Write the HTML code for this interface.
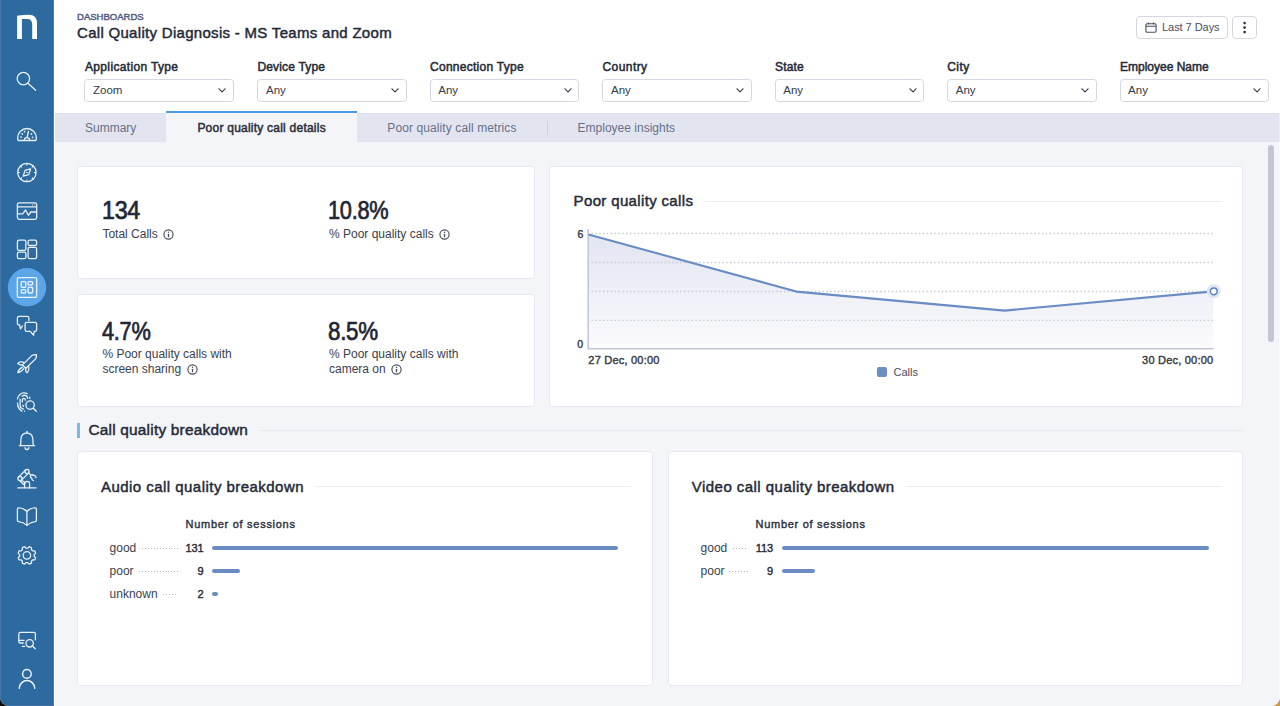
<!DOCTYPE html>
<html><head><meta charset="utf-8">
<style>
*{box-sizing:border-box;margin:0;padding:0}
html,body{width:1280px;height:706px;overflow:hidden;background:linear-gradient(90deg,#100c0a 0,#100c0a 50%,#c69b52 50%)}
#win{position:absolute;left:0;top:0;width:1280px;height:706px;overflow:hidden;border-radius:0 0 9px 9px;background:#fff}
body{font-family:"Liberation Sans",Arial,sans-serif;color:#252b37;position:relative}
.abs{position:absolute}
.t{position:absolute;white-space:nowrap;line-height:1}
#side{position:absolute;left:0;top:0;width:54px;height:706px;background:#2d6a9f}
.crumb{left:77px;top:12px;font-size:9.5px;font-weight:400;-webkit-text-stroke:.45px #505d82;color:#505d82;letter-spacing:.02px}
.title{left:77px;top:24.6px;font-size:15px;font-weight:400;-webkit-text-stroke:.45px #232936;color:#232936;letter-spacing:.3px}
.btn{position:absolute;top:16px;height:23px;border:1px solid #d3d7e2;border-radius:4px;background:#fff}
.flabel{top:61px;font-size:12px;font-weight:400;-webkit-text-stroke:.5px #262b36;color:#262b36;letter-spacing:.25px}
.sel{position:absolute;top:79px;width:149.5px;height:23px;border:1px solid #d5d8e3;border-radius:3.5px;background:#fff}
.sel .chev{position:absolute;right:6.6px;top:8.3px}
.sel span{position:absolute;left:7.6px;top:4.6px;font-size:11.5px;line-height:1;color:#333a47}
.sel i{position:absolute;right:6.5px;top:8px;width:8px;height:5px;background:no-repeat}
#tabs{position:absolute;left:55px;top:113px;width:1225px;height:29px;background:#e2e4f0;border-top:1px solid #dcdfeb}
.tab{top:122.2px;font-size:12px;color:#687089}
#content{position:absolute;left:55px;top:142px;width:1225px;height:564px;background:#f4f5f9}
#wl{position:absolute;left:54px;top:113px;width:1px;height:593px;background:#fdfdfe}
.card{position:absolute;background:#fff;border:1px solid #e7e8f3;border-radius:4px}
.kv{font-size:25px;font-weight:400;-webkit-text-stroke:.7px #1f2633;color:#1f2633;letter-spacing:-.3px;transform-origin:0 0}
.kl{font-size:12px;color:#3b414e;line-height:15px;white-space:normal}
.info{display:inline-block;vertical-align:-2px;margin-left:5.5px}
.h2{font-size:15px;font-weight:400;-webkit-text-stroke:.45px #232936;color:#232936;letter-spacing:.4px}
.hl{position:absolute;height:1px;background:#eceef4}
.ax{font-size:11px;font-weight:400;-webkit-text-stroke:.4px #343a47;color:#343a47;letter-spacing:.22px}
.ns{font-size:11px;font-weight:400;-webkit-text-stroke:.4px #2b313d;color:#2b313d;letter-spacing:.72px}
.rl{font-size:12px;color:#3b414e}
.rv{font-size:11px;font-weight:400;-webkit-text-stroke:.4px #262b36;color:#262b36;text-align:right;width:30px;letter-spacing:-.1px}
.ld{position:absolute;height:1px;background:repeating-linear-gradient(90deg,#b3b9ca 0,#b3b9ca 1px,transparent 1px,transparent 2.95px)}
.bar{position:absolute;height:4px;border-radius:2px;background:#6b8cc2}
</style></head><body><div id="win">
<div id="side">
<svg width="54" height="706" viewBox="0 0 54 706" style="position:absolute;left:0;top:0" fill="none" stroke="#e9eff6" stroke-width="1.3" stroke-linecap="round" stroke-linejoin="round">
<rect x="52" y="0" width="1" height="706" fill="#28649a" stroke="none"/><rect x="53" y="0" width="1" height="706" fill="#4f82b1" stroke="none"/><rect x="0" y="0" width="1" height="706" fill="#4577a7" stroke="none"/><rect x="0" y="705" width="54" height="1" fill="#3f74a6" stroke="none"/>
<!-- logo n -->
<path d="M17.1 39.1 V15.7 Q23 14.8 29 14.8 Q37 14.9 37 23.4 V39.1 H32.2 V24.8 Q32.2 19.1 27.2 19.1 H21.9 V39.1 Z" fill="#fff" stroke="none"/>
<!-- search -->
<circle cx="23.4" cy="78.6" r="6.2"/>
<path d="M28 83.3 L35.6 90.2"/>
<!-- gauge -->
<path d="M17.7 137.8 A9.3 9.3 0 0 1 36.3 137.8 V139.4 Q36.3 140.5 35.2 140.5 H18.8 Q17.7 140.5 17.7 139.4 Z"/>
<path d="M24.3 140.4 A2.7 2.7 0 0 1 29.7 140.4"/>
<path d="M27 137.5 L28.5 131.5"/>
<circle cx="24.6" cy="131.6" r=".35" stroke-width="1.1"/>
<circle cx="22.3" cy="134" r=".35" stroke-width="1.1"/>
<circle cx="21.1" cy="137.1" r=".35" stroke-width="1.1"/>
<circle cx="31.5" cy="134" r=".35" stroke-width="1.1"/>
<circle cx="32.6" cy="137.3" r=".35" stroke-width="1.1"/>
<!-- compass -->
<circle cx="26.9" cy="172.5" r="9.2"/>
<path d="M26.9 163.6 v1.4 M26.9 180 v1.4 M18 172.5 h1.4 M34.4 172.5 h1.4 M20.6 166.2 l1 1 M32.2 177.8 l1 1 M33.2 166.2 l-1 1 M21.6 177.8 l-1 1" stroke-width="1.2"/>
<path d="M30.6 168.8 L28.8 174.6 L23.2 176.2 L25 170.4 Z"/>
<circle cx="26.9" cy="172.5" r=".4" stroke-width="1"/>
<!-- browser pulse -->
<rect x="17.4" y="202.9" width="19.3" height="16.4" rx="1.8"/>
<path d="M17.6 206.9 H36.5"/>
<path d="M32.5 204.9 h.1 M34.3 204.9 h.1" stroke-width="1"/>
<path d="M17.6 213.9 H22.7 L25.6 210 L28.4 215.3 L30.8 212 H36.5"/>
<!-- layout -->
<rect x="17.4" y="240.1" width="8.5" height="10.3" rx="1.6"/>
<rect x="17.4" y="252.2" width="8.5" height="6.4" rx="1.6"/>
<rect x="28.1" y="240.1" width="8.5" height="5.4" rx="1.6"/>
<rect x="28.1" y="247.3" width="8.5" height="11.3" rx="1.6"/>
<!-- active dashboards -->
<circle cx="27" cy="287.3" r="19.2" fill="#5ba5e8" stroke="none"/>
<rect x="17.3" y="277.6" width="19.4" height="19.7" rx="1.4" stroke="#eaf3fc"/>
<rect x="21.2" y="281.6" width="4.6" height="5.8" rx="1.2" stroke="#eaf3fc"/>
<rect x="28" y="281.6" width="4.6" height="3.3" rx="1.2" stroke="#eaf3fc"/>
<rect x="21.2" y="289.7" width="4.6" height="3.3" rx="1.2" stroke="#eaf3fc"/>
<rect x="28" y="287.2" width="4.6" height="5.8" rx="1.2" stroke="#eaf3fc"/>
<!-- chat -->
<path d="M28.9 320.4 V318 Q28.9 316.4 27.3 316.4 H19 Q17.4 316.4 17.4 318 V323.6 Q17.4 325 18.8 325 H19.6 L20.5 328.8 L22.4 326"/>
<path d="M26.7 322.4 H35 Q36.6 322.4 36.6 324 V329.8 Q36.6 331.4 35 331.4 H34.2 L33.6 335.2 L30.2 331.4 H26.7 Q25.1 331.4 25.1 329.8 V324 Q25.1 322.4 26.7 322.4 Z"/>
<!-- rocket -->
<path d="M22.3 365.1 L32 355.4 Q34.4 354.6 36.4 354.7 Q36.6 356.6 36 358.4 L25.9 368.3 Z"/>
<path d="M24 362.4 Q19.5 360.8 17.8 363.4 Q19 365 22.3 365.1"/>
<path d="M28.6 366.2 Q29.5 371 27 372.8 Q24.9 371.2 25.9 368.3"/>
<path d="M22.4 367.1 Q18.3 369.6 17.8 372.7 Q21.6 372 23.8 368.5"/>
<!-- fingerprint search -->
<path d="M17.4 398.8 Q19 393 24 392.9 Q26 392.9 27.2 393.6"/>
<path d="M17.5 402.9 Q17.4 408 21.8 411.1"/>
<path d="M20.1 399.2 V405.8 Q20.4 408.4 23.5 409.2"/>
<path d="M22.1 396.1 Q24.3 394.7 26.2 395.6 Q27.3 396.3 27.6 398.3"/>
<path d="M22.3 401.8 V400 Q22.6 398.4 24 398.4 Q25.4 398.6 25.4 400.2"/>
<path d="M22.8 405.3 L23.5 406.3"/>
<path d="M24.5 411.2 h.1"/>
<path d="M29.6 397.1 L30 398.3"/>
<circle cx="30.1" cy="405.1" r="4.2"/>
<path d="M33.3 408.3 L36.3 411.3"/>
<!-- bell -->
<path d="M19.3 445.7 H34.6"/>
<path d="M20.6 445.6 Q20.9 440 21 438.6 Q21.7 433.2 26.9 433.2 Q32.1 433.2 32.8 438.6 Q32.9 440 33.3 445.6"/>
<path d="M26.9 431.5 V433"/>
<path d="M25 447.6 A1.9 1.9 0 0 0 28.8 447.6"/>
<!-- robot arm -->
<path d="M17.8 487.9 H36"/>
<path d="M24.6 487.8 V483.8 Q24.6 481.4 27.1 481.4 Q29.6 481.4 29.6 483.8 V487.8"/>
<circle cx="20" cy="478.6" r="2.1"/>
<circle cx="27" cy="471.6" r="2.1"/>
<path d="M18.4 477.1 L25.4 470.2 M21.5 480.1 L28.5 473.1 M21.6 480.3 L25.4 483 M19.8 480.7 L23.7 484.5"/>
<path d="M28.7 472.9 L30.5 474.9"/>
<path d="M33.1 475.1 A1.7 1.7 0 1 0 31.6 478.1"/>
<path d="M33.1 475.1 Q35.3 475 36 477.6 M31.6 478.1 Q31.6 480 33.5 480.6"/>
<!-- book -->
<path d="M26.9 511.2 Q22.6 507.6 18.5 507.9 Q17.4 508 17.4 509.3 V520.2 Q17.4 521.4 18.6 521.6 Q23.3 522 26.9 525.4 Q30.5 522 35.2 521.6 Q36.4 521.4 36.4 520.2 V509.3 Q36.4 508 35.3 507.9 Q31.2 507.6 26.9 511.2 Z"/>
<path d="M26.9 511.3 V525.2"/>
<!-- gear -->
<path d="M26.90 548.10 L27.09 548.10 L27.28 548.11 L27.47 548.12 L27.66 548.14 L27.86 548.12 L28.08 547.92 L28.35 547.59 L28.64 547.22 L28.94 546.92 L29.22 546.75 L29.46 546.77 L29.68 546.84 L29.90 546.92 L30.13 547.00 L30.34 547.09 L30.56 547.18 L30.77 547.28 L30.99 547.38 L31.19 547.49 L31.38 547.65 L31.46 547.96 L31.45 548.39 L31.40 548.86 L31.35 549.27 L31.37 549.57 L31.49 549.73 L31.64 549.85 L31.78 549.98 L31.92 550.10 L32.06 550.24 L32.20 550.38 L32.32 550.52 L32.45 550.66 L32.57 550.81 L32.73 550.93 L33.03 550.95 L33.44 550.90 L33.91 550.85 L34.34 550.84 L34.65 550.92 L34.81 551.11 L34.92 551.31 L35.02 551.53 L35.12 551.74 L35.21 551.96 L35.30 552.17 L35.38 552.40 L35.46 552.62 L35.53 552.84 L35.55 553.08 L35.38 553.36 L35.08 553.66 L34.71 553.95 L34.38 554.22 L34.18 554.44 L34.16 554.64 L34.18 554.83 L34.19 555.02 L34.20 555.21 L34.20 555.40 L34.20 555.59 L34.19 555.78 L34.18 555.97 L34.16 556.16 L34.18 556.36 L34.38 556.58 L34.71 556.85 L35.08 557.14 L35.38 557.44 L35.55 557.72 L35.53 557.96 L35.46 558.18 L35.38 558.40 L35.30 558.63 L35.21 558.84 L35.12 559.06 L35.02 559.27 L34.92 559.49 L34.81 559.69 L34.65 559.88 L34.34 559.96 L33.91 559.95 L33.44 559.90 L33.03 559.85 L32.73 559.87 L32.57 559.99 L32.45 560.14 L32.32 560.28 L32.20 560.42 L32.06 560.56 L31.92 560.70 L31.78 560.82 L31.64 560.95 L31.49 561.07 L31.37 561.23 L31.35 561.53 L31.40 561.94 L31.45 562.41 L31.46 562.84 L31.38 563.15 L31.19 563.31 L30.99 563.42 L30.77 563.52 L30.56 563.62 L30.34 563.71 L30.13 563.80 L29.90 563.88 L29.68 563.96 L29.46 564.03 L29.22 564.05 L28.94 563.88 L28.64 563.58 L28.35 563.21 L28.08 562.88 L27.86 562.68 L27.66 562.66 L27.47 562.68 L27.28 562.69 L27.09 562.70 L26.90 562.70 L26.71 562.70 L26.52 562.69 L26.33 562.68 L26.14 562.66 L25.94 562.68 L25.72 562.88 L25.45 563.21 L25.16 563.58 L24.86 563.88 L24.58 564.05 L24.34 564.03 L24.12 563.96 L23.90 563.88 L23.67 563.80 L23.46 563.71 L23.24 563.62 L23.03 563.52 L22.81 563.42 L22.61 563.31 L22.42 563.15 L22.34 562.84 L22.35 562.41 L22.40 561.94 L22.45 561.53 L22.43 561.23 L22.31 561.07 L22.16 560.95 L22.02 560.82 L21.88 560.70 L21.74 560.56 L21.60 560.42 L21.48 560.28 L21.35 560.14 L21.23 559.99 L21.07 559.87 L20.77 559.85 L20.36 559.90 L19.89 559.95 L19.46 559.96 L19.15 559.88 L18.99 559.69 L18.88 559.49 L18.78 559.27 L18.68 559.06 L18.59 558.84 L18.50 558.63 L18.42 558.40 L18.34 558.18 L18.27 557.96 L18.25 557.72 L18.42 557.44 L18.72 557.14 L19.09 556.85 L19.42 556.58 L19.62 556.36 L19.64 556.16 L19.62 555.97 L19.61 555.78 L19.60 555.59 L19.60 555.40 L19.60 555.21 L19.61 555.02 L19.62 554.83 L19.64 554.64 L19.62 554.44 L19.42 554.22 L19.09 553.95 L18.72 553.66 L18.42 553.36 L18.25 553.08 L18.27 552.84 L18.34 552.62 L18.42 552.40 L18.50 552.17 L18.59 551.96 L18.68 551.74 L18.78 551.53 L18.88 551.31 L18.99 551.11 L19.15 550.92 L19.46 550.84 L19.89 550.85 L20.36 550.90 L20.77 550.95 L21.07 550.93 L21.23 550.81 L21.35 550.66 L21.48 550.52 L21.60 550.38 L21.74 550.24 L21.88 550.10 L22.02 549.98 L22.16 549.85 L22.31 549.73 L22.43 549.57 L22.45 549.27 L22.40 548.86 L22.35 548.39 L22.34 547.96 L22.42 547.65 L22.61 547.49 L22.81 547.38 L23.03 547.28 L23.24 547.18 L23.46 547.09 L23.67 547.00 L23.90 546.92 L24.12 546.84 L24.34 546.77 L24.58 546.75 L24.86 546.92 L25.16 547.22 L25.45 547.59 L25.72 547.92 L25.94 548.12 L26.14 548.14 L26.33 548.12 L26.52 548.11 L26.71 548.10 Z"/>
<circle cx="26.9" cy="555.4" r="3.7"/>
<!-- chat search -->
<path d="M23.2 643 H20.4 Q18.8 643 18.8 641.4 V634 Q18.8 632.4 20.4 632.4 H33.8 Q35.4 632.4 35.4 634 V639.8"/>
<path d="M19.2 640.4 H24"/>
<path d="M22.4 646.4 H24.6"/>
<circle cx="29.65" cy="643.3" r="3.7"/>
<path d="M32.4 646 L35.3 648.7"/>
<!-- user -->
<circle cx="26.9" cy="673.9" r="4.3" stroke-width="1.5"/>
<path d="M19.3 688.3 A7.7 7.7 0 0 1 34.7 688.3" stroke-width="1.5"/>
</svg>
</div>

<div class="t crumb">DASHBOARDS</div>
<div class="t title">Call Quality Diagnosis - MS Teams and Zoom</div>
<div class="btn" style="left:1136px;width:92px">
<svg class="abs" style="left:8px;top:4.6px" width="12" height="11" viewBox="0 0 12 11" fill="none" stroke="#4a505e" stroke-width="1.1"><rect x=".9" y="1.7" width="10.2" height="8.6" rx="1.2"/><path d="M.9 4.3 H11.1 M3.5 .4 V2.6 M8.5 .4 V2.6"/></svg>
<div class="t" style="left:25px;top:5.3px;font-size:11px;color:#4a505e;letter-spacing:-.05px">Last 7 Days</div>
</div>
<div class="btn" style="left:1232px;width:25px">
<svg class="abs" style="left:-1px;top:-1px" width="25" height="23" viewBox="1232 16 25 23"><g fill="#262b36"><circle cx="1244.6" cy="23.1" r="1.3"/><circle cx="1244.6" cy="27.6" r="1.3"/><circle cx="1244.6" cy="32.1" r="1.3"/></g></svg>
</div>

<div class="t flabel" style="left:85px;letter-spacing:0.34px">Application Type</div>
<div class="t flabel" style="left:257.4px;letter-spacing:0.17px">Device Type</div>
<div class="t flabel" style="left:430px;letter-spacing:0.27px">Connection Type</div>
<div class="t flabel" style="left:602.4px;letter-spacing:0.45px">Country</div>
<div class="t flabel" style="left:775px;letter-spacing:0.16px">State</div>
<div class="t flabel" style="left:947.2px;letter-spacing:0.45px">City</div>
<div class="t flabel" style="left:1120px;letter-spacing:0px">Employee Name</div>

<div class="sel" style="left:84.4px"><span>Zoom</span><svg class="chev" width="8" height="5" viewBox="0 0 8 5"><path d="M1 .8 L4 3.9 L7 .8" fill="none" stroke="#3a4050" stroke-width="1.2" stroke-linecap="round" stroke-linejoin="round"/></svg></div>
<div class="sel" style="left:257.4px"><span>Any</span><svg class="chev" width="8" height="5" viewBox="0 0 8 5"><path d="M1 .8 L4 3.9 L7 .8" fill="none" stroke="#3a4050" stroke-width="1.2" stroke-linecap="round" stroke-linejoin="round"/></svg></div>
<div class="sel" style="left:429.7px"><span>Any</span><svg class="chev" width="8" height="5" viewBox="0 0 8 5"><path d="M1 .8 L4 3.9 L7 .8" fill="none" stroke="#3a4050" stroke-width="1.2" stroke-linecap="round" stroke-linejoin="round"/></svg></div>
<div class="sel" style="left:602.4px"><span>Any</span><svg class="chev" width="8" height="5" viewBox="0 0 8 5"><path d="M1 .8 L4 3.9 L7 .8" fill="none" stroke="#3a4050" stroke-width="1.2" stroke-linecap="round" stroke-linejoin="round"/></svg></div>
<div class="sel" style="left:774.7px"><span>Any</span><svg class="chev" width="8" height="5" viewBox="0 0 8 5"><path d="M1 .8 L4 3.9 L7 .8" fill="none" stroke="#3a4050" stroke-width="1.2" stroke-linecap="round" stroke-linejoin="round"/></svg></div>
<div class="sel" style="left:947.2px"><span>Any</span><svg class="chev" width="8" height="5" viewBox="0 0 8 5"><path d="M1 .8 L4 3.9 L7 .8" fill="none" stroke="#3a4050" stroke-width="1.2" stroke-linecap="round" stroke-linejoin="round"/></svg></div>
<div class="sel" style="left:1119.5px"><span>Any</span><svg class="chev" width="8" height="5" viewBox="0 0 8 5"><path d="M1 .8 L4 3.9 L7 .8" fill="none" stroke="#3a4050" stroke-width="1.2" stroke-linecap="round" stroke-linejoin="round"/></svg></div>

<div id="tabs"></div>
<div id="content"></div><div id="wl"></div><div class="abs" style="left:1279px;top:0;width:1px;height:706px;background:rgba(255,255,255,.45)"></div>
<div class="abs" style="left:166px;top:111px;width:191px;height:31px;background:#f4f5f9;border-top:2px solid #4b9be6"></div>
<div class="t tab" style="left:85px">Summary</div>
<div class="t tab" style="left:197.4px;color:#2b303c;-webkit-text-stroke:.5px #2b303c;letter-spacing:.23px">Poor quality call details</div>
<div class="t tab" style="left:387.3px;letter-spacing:.1px">Poor quality call metrics</div>
<div class="abs" style="left:547px;top:121px;width:1px;height:14px;background:#cdd0df"></div>
<div class="t tab" style="left:577.6px">Employee insights</div>

<!-- scrollbar -->
<div class="abs" style="left:1268px;top:145px;width:6px;height:197px;border-radius:3px;background:#c2c6d3"></div>

<!-- KPI cards -->
<div class="card" style="left:77px;top:166px;width:458px;height:113px"></div>
<div class="card" style="left:77px;top:294px;width:458px;height:113px"></div>
<div class="t kv" style="left:101.6px;top:198.4px;transform:scaleX(.93)">134</div>
<div class="t kl" style="left:102.4px;top:226.5px">Total Calls<svg class="info" width="11" height="11" viewBox="0 0 11 11"><circle cx="5.5" cy="5.5" r="4.6" fill="none" stroke="#484e5b" stroke-width="1.15"/><rect x="4.85" y="4.7" width="1.3" height="3.5" rx=".5" fill="#484e5b"/><circle cx="5.5" cy="3.25" r=".75" fill="#484e5b"/></svg></div>
<div class="t kv" style="left:328.4px;top:198.4px;transform:scaleX(.87)">10.8%</div>
<div class="t kl" style="left:329px;top:226.5px">% Poor quality calls<svg class="info" width="11" height="11" viewBox="0 0 11 11"><circle cx="5.5" cy="5.5" r="4.6" fill="none" stroke="#484e5b" stroke-width="1.15"/><rect x="4.85" y="4.7" width="1.3" height="3.5" rx=".5" fill="#484e5b"/><circle cx="5.5" cy="3.25" r=".75" fill="#484e5b"/></svg></div>
<div class="t kv" style="left:101.6px;top:319.2px;transform:scaleX(.87)">4.7%</div>
<div class="t kl" style="left:102.4px;top:347.2px">% Poor quality calls with<br>screen sharing<svg class="info" width="11" height="11" viewBox="0 0 11 11"><circle cx="5.5" cy="5.5" r="4.6" fill="none" stroke="#484e5b" stroke-width="1.15"/><rect x="4.85" y="4.7" width="1.3" height="3.5" rx=".5" fill="#484e5b"/><circle cx="5.5" cy="3.25" r=".75" fill="#484e5b"/></svg></div>
<div class="t kv" style="left:328.4px;top:319.2px;transform:scaleX(.895)">8.5%</div>
<div class="t kl" style="left:329px;top:347.2px">% Poor quality calls with<br>camera on<svg class="info" width="11" height="11" viewBox="0 0 11 11"><circle cx="5.5" cy="5.5" r="4.6" fill="none" stroke="#484e5b" stroke-width="1.15"/><rect x="4.85" y="4.7" width="1.3" height="3.5" rx=".5" fill="#484e5b"/><circle cx="5.5" cy="3.25" r=".75" fill="#484e5b"/></svg></div>

<!-- chart card -->
<div class="card" style="left:549px;top:166px;width:694px;height:241px"></div>
<div class="t h2" style="left:573.6px;top:193px;letter-spacing:.35px">Poor quality calls</div>
<div class="hl" style="left:705px;top:201px;width:517px"></div>
<svg class="abs" style="left:550px;top:166px" width="693" height="241" viewBox="550 166 693 241">
<defs><linearGradient id="ga" x1="0" y1="0" x2="0" y2="1"><stop offset="0" stop-color="#e1e5f2"/><stop offset=".5" stop-color="#eef0f7"/><stop offset="1" stop-color="#fbfbfd"/></linearGradient></defs>
<path d="M588.5 234.4 L796.3 291.6 L1004.7 310.6 L1213.2 291.4 V348.3 H588.5 Z" fill="url(#ga)"/>
<g stroke="#c4c8d4" stroke-width="1.4" stroke-dasharray="1.4 2.45">
<path d="M591.5 233.5 H1214 M591.5 262.5 H1214 M591.5 291.5 H1214 M591.5 320.4 H1214"/>
</g>
<path d="M588.2 229 V348.7 H1213.6" fill="none" stroke="#c3c8d6" stroke-width="1.6"/>
<path d="M588.5 234.4 L796.3 291.6 L1004.7 310.6 L1213.2 291.4" fill="none" stroke="#6a8bc3" stroke-width="2.1" stroke-linejoin="round"/>
<circle cx="1213.8" cy="291.3" r="7" fill="#dfe6f3"/>
<circle cx="1213.8" cy="291.3" r="3.4" fill="#fff" stroke="#5b7ebc" stroke-width="1.5"/>
</svg>
<div class="t ax" style="left:577.6px;top:228.9px;font-size:10.5px">6</div>
<div class="t ax" style="left:577.3px;top:339.2px;font-size:10.5px">0</div>
<div class="t ax" style="left:588.3px;top:355.1px">27 Dec, 00:00</div>
<div class="t ax" style="right:66.6px;top:355.1px">30 Dec, 00:00</div>
<div class="abs" style="left:877.2px;top:366.6px;width:10.3px;height:10.6px;border-radius:2px;background:#6e8fc5"></div>
<div class="t" style="left:893.5px;top:367.2px;font-size:11px;color:#474d5a">Calls</div>

<!-- section -->
<div class="abs" style="left:76.8px;top:422.8px;width:3.6px;height:15.2px;background:#7cb8e6"></div>
<div class="t h2" style="left:88.4px;top:422.3px;font-size:15.4px;letter-spacing:.22px">Call quality breakdown</div>
<div class="hl" style="left:260px;top:430px;width:983px;background:#e8eaf1"></div>

<!-- audio card -->
<div class="card" style="left:77px;top:451px;width:576px;height:235px"></div>
<div class="t h2" style="left:101px;top:478.8px;letter-spacing:.46px">Audio call quality breakdown</div>
<div class="hl" style="left:315px;top:486px;width:316px"></div>
<div class="t ns" style="left:185.5px;top:519.2px">Number of sessions</div>
<div class="t rl" style="left:109.6px;top:542px">good</div>
<div class="ld" style="left:142.2px;top:547.5px;width:36px"></div>
<div class="t rv" style="left:173.6px;top:542.6px">131</div>
<div class="bar" style="left:211.7px;top:545.8px;width:406.3px"></div>
<div class="t rl" style="left:109.6px;top:565.1px">poor</div>
<div class="ld" style="left:139px;top:570.6px;width:39px"></div>
<div class="t rv" style="left:173.6px;top:565.7px">9</div>
<div class="bar" style="left:211.7px;top:568.9px;width:27.9px"></div>
<div class="t rl" style="left:109.6px;top:588.2px">unknown</div>
<div class="ld" style="left:162.5px;top:593.7px;width:15.6px"></div>
<div class="t rv" style="left:173.6px;top:588.8px">2</div>
<div class="bar" style="left:211.7px;top:592px;width:6.5px"></div>

<!-- video card -->
<div class="card" style="left:668px;top:451px;width:575px;height:235px"></div>
<div class="t h2" style="left:691.8px;top:478.8px;letter-spacing:.46px">Video call quality breakdown</div>
<div class="hl" style="left:906px;top:486px;width:316px"></div>
<div class="t ns" style="left:755.5px;top:519.2px">Number of sessions</div>
<div class="t rl" style="left:700.6px;top:542px">good</div>
<div class="ld" style="left:732.5px;top:547.5px;width:15.6px"></div>
<div class="t rv" style="left:743px;top:542.6px">113</div>
<div class="bar" style="left:781.9px;top:545.8px;width:427px"></div>
<div class="t rl" style="left:700.6px;top:565.1px">poor</div>
<div class="ld" style="left:729px;top:570.6px;width:19px"></div>
<div class="t rv" style="left:743px;top:565.7px">9</div>
<div class="bar" style="left:781.9px;top:568.9px;width:33.1px"></div>
</div></body></html>
